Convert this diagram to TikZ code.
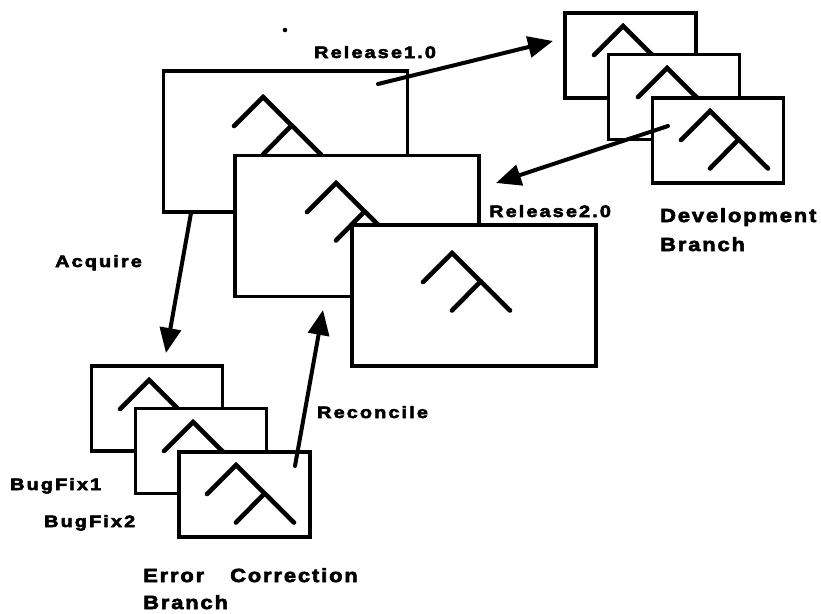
\documentclass[tikz,border=0pt]{standalone}
\usepackage{fontspec}
\usetikzlibrary{arrows.meta}
\newfontfamily\smallface[FakeStretch=1.2,LetterSpace=13,FakeBold=3.5]{Liberation Sans Bold}
\newfontfamily\largeface[FakeStretch=1.15,LetterSpace=10,FakeBold=3.5]{Liberation Sans Bold}
\tikzset{
  bigbox/.style={draw=black,fill=white,line width=3.7pt,minimum width=244pt,minimum height=141pt,inner sep=0pt},
  smallbox/.style={draw=black,fill=white,line width=3.7pt,minimum width=131pt,minimum height=85pt,inner sep=0pt},
  flow/.style={line width=4pt,line cap=round,-{Triangle[length=25pt,width=21pt]}},
  smalllabel/.style={anchor=base west,inner sep=0pt,font=\smallface\fontsize{16.5}{19}\selectfont},
  largelabel/.style={anchor=base west,inner sep=0pt,font=\largeface\fontsize{19}{22}\selectfont},
  pics/tree/.style={code={
    \draw[line width=4.6pt,line cap=round,line join=miter] (-29,29) -- (0,0) -- (58,57.5);
    \draw[line width=4.6pt,line cap=round] (0,57.5) -- (28.5,28.5);
  }}
}
\begin{document}
\begin{tikzpicture}[x=1pt,y=-1pt]
\useasboundingbox (0,0) rectangle (821,613);
% main line
\node[bigbox] (main1) at (285.5,141.5) {};
\pic at (263,97) {tree};
\node[bigbox] (main2) at (357,226) {};
\pic at (336,183) {tree};
\node[bigbox] (main3) at (474,295.5) {};
\pic at (452,253) {tree};
% development branch
\node[smallbox] (dev1) at (630.5,55.5) {};
\pic at (623,26) {tree};
\node[smallbox] (dev2) at (674,97) {};
\pic at (667,68) {tree};
\node[smallbox] (dev3) at (718,140.5) {};
\pic at (710,111) {tree};
% error correction branch
\node[smallbox] (err1) at (157,408.5) {};
\pic at (149,380) {tree};
\node[smallbox] (err2) at (201,451) {};
\pic at (193,422) {tree};
\node[smallbox] (err3) at (244.5,494.5) {};
\pic at (236,465) {tree};
% connector ends
\coordinate (relS) at (378,84);
\coordinate (relT) at (553,41);
\coordinate (devS) at (668,126);
\coordinate (devT) at (496,183);
\coordinate (acqS) at (191,213);
\coordinate (acqT) at (166,353);
\coordinate (recS) at (295,466);
\coordinate (recT) at (323,310);
\draw[flow] (relS) -- (relT);
\draw[flow] (devS) -- (devT);
\draw[flow] (acqS) -- (acqT);
\draw[flow] (recS) -- (recT);
% scanner speck printed above the first label
\fill (285,30) circle (2.3pt);
% labels
\node[smalllabel] (l1) at (314,58) {Release1.0};
\node[smalllabel] (l2) at (489,217) {Release2.0};
\node[smalllabel] (l3) at (55,267) {Acquire};
\node[smalllabel] (l4) at (317,418) {Reconcile};
\node[smalllabel] (l5) at (10,490) {BugFix1};
\node[smalllabel] (l6) at (44,527) {BugFix2};
\node[largelabel] (l7) at (660,222) {Development};
\node[largelabel] (l8) at (660,251) {Branch};
\node[largelabel] (l9) at (143,582) {Error};
\node[largelabel] (l10) at (230,582) {Correction};
\node[largelabel] (l11) at (143,609) {Branch};
\end{tikzpicture}
\end{document}
